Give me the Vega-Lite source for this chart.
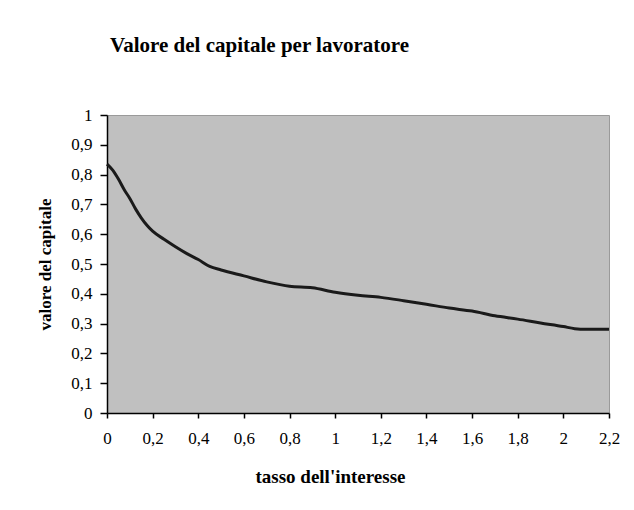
{
  "$schema": "https://vega.github.io/schema/vega-lite/v6.json",
  "width": 502,
  "height": 298,
  "autosize": {"type": "none"},
  "padding": {"left": 107, "top": 115, "right": 25, "bottom": 97},
  "background": "white",
  "title": {
    "text": "Valore del capitale per lavoratore",
    "font": "Liberation Serif",
    "fontSize": 21,
    "fontWeight": "bold",
    "anchor": "start",
    "frame": "group",
    "dx": 3,
    "offset": 50,
    "color": "black"
  },
  "config": {
    "view": {"fill": "#c0c0c0", "stroke": "#9a9a9a", "strokeWidth": 1},
    "axis": {
      "grid": false,
      "domainColor": "black",
      "domainWidth": 1.5,
      "tickColor": "black",
      "tickWidth": 1.5,
      "labelFont": "Liberation Serif",
      "labelFontSize": 17,
      "labelColor": "black",
      "titleFont": "Liberation Serif",
      "titleFontSize": 19,
      "titleFontWeight": "bold",
      "titleColor": "black"
    }
  },
  "data": {
    "values": [
      {"tasso": 0.0, "valore": 0.835},
      {"tasso": 0.025, "valore": 0.815},
      {"tasso": 0.05, "valore": 0.785},
      {"tasso": 0.075, "valore": 0.75},
      {"tasso": 0.1, "valore": 0.72},
      {"tasso": 0.125, "valore": 0.685},
      {"tasso": 0.15, "valore": 0.655},
      {"tasso": 0.175, "valore": 0.63},
      {"tasso": 0.2, "valore": 0.61},
      {"tasso": 0.25, "valore": 0.583},
      {"tasso": 0.3, "valore": 0.558},
      {"tasso": 0.35, "valore": 0.535},
      {"tasso": 0.4, "valore": 0.515},
      {"tasso": 0.45, "valore": 0.492},
      {"tasso": 0.5, "valore": 0.48},
      {"tasso": 0.6, "valore": 0.46},
      {"tasso": 0.7, "valore": 0.44},
      {"tasso": 0.8, "valore": 0.425},
      {"tasso": 0.9, "valore": 0.42},
      {"tasso": 1.0, "valore": 0.405},
      {"tasso": 1.1, "valore": 0.395},
      {"tasso": 1.2, "valore": 0.388},
      {"tasso": 1.3, "valore": 0.377},
      {"tasso": 1.4, "valore": 0.365},
      {"tasso": 1.5, "valore": 0.352},
      {"tasso": 1.6, "valore": 0.342},
      {"tasso": 1.7, "valore": 0.326},
      {"tasso": 1.8, "valore": 0.315},
      {"tasso": 1.9, "valore": 0.302},
      {"tasso": 2.0, "valore": 0.29},
      {"tasso": 2.05, "valore": 0.283},
      {"tasso": 2.1, "valore": 0.281},
      {"tasso": 2.2, "valore": 0.281}
    ]
  },
  "mark": {"type": "line", "color": "#1a1a1a", "strokeWidth": 3, "interpolate": "monotone"},
  "encoding": {
    "x": {
      "field": "tasso",
      "type": "quantitative",
      "scale": {"domain": [0, 2.2], "nice": false, "zero": true},
      "axis": {
        "title": "tasso dell'interesse",
        "values": [0, 0.2, 0.4, 0.6, 0.8, 1, 1.2, 1.4, 1.6, 1.8, 2, 2.2],
        "labelExpr": "replace(format(datum.value, '.1~f'), '.', ',')",
        "tickSize": 5,
        "labelPadding": 12,
        "labelFlush": false,
        "labelOverlap": false,
        "titlePadding": 21,
        "titleX": 223
      }
    },
    "y": {
      "field": "valore",
      "type": "quantitative",
      "scale": {"domain": [0, 1], "nice": false},
      "axis": {
        "title": "valore del capitale",
        "values": [0, 0.1, 0.2, 0.3, 0.4, 0.5, 0.6, 0.7, 0.8, 0.9, 1],
        "labelExpr": "replace(format(datum.value, '.1~f'), '.', ',')",
        "tickSize": 7,
        "labelPadding": 8,
        "labelFlush": false,
        "labelOverlap": false,
        "titlePadding": 16,
        "titleFontSize": 17
      }
    }
  }
}
